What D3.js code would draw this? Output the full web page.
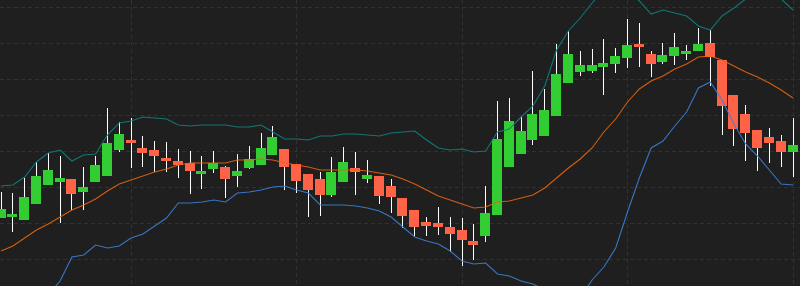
<!DOCTYPE html>
<html>
<head>
<meta charset="utf-8">
<script src="https://cdn.jsdelivr.net/npm/d3@7"></script>
<style>
  html, body { margin: 0; padding: 0; background: #1f1f1f; }
  svg { display: block; }
</style>
</head>
<body>
<div id="container_candles"></div>
<script>
// OHLC per session
const opens = [7.7, 7.8, 7.5, 9.1, 11.0, 11.3, 11.6, 10.3, 11.3, 11.9,
  14.5, 15.5, 14.7, 14.5, 13.7, 13.4, 13.2, 12.1, 12.6, 12.8,
  11.9, 12.7, 13.0, 14.0, 14.6, 13.1, 12.1, 11.6, 10.0, 11.3,
  12.7, 11.6, 11.9, 10.9, 9.7, 8.5, 7.3, 7.2, 6.8, 6.5,
  5.4, 5.9, 8.0, 12.8, 14.1, 15.5, 15.9, 17.9, 21.2, 22.3,
  22.4, 22.8, 23.1, 23.7, 25.1, 24.1, 23.3, 23.9, 24.1, 24.4,
  25.2, 23.5, 20.0, 18.1, 16.5, 15.8, 15.4, 14.3];
const highs = [10.3, 10.2, 11.7, 13.3, 14.2, 13.9, 11.6, 12.8, 13.9, 18.7,
  17.3, 17.7, 15.9, 15.4, 15.3, 14.6, 14.4, 13.9, 14.4, 12.9,
  14.1, 14.9, 16.2, 16.9, 14.6, 13.1, 12.1, 12.3, 13.8, 14.8,
  14.3, 13.5, 11.9, 11.6, 9.7, 8.5, 7.8, 8.8, 7.8, 7.7,
  7.1, 10.9, 19.4, 19.7, 17.9, 22.4, 20.6, 25.1, 26.4, 24.4,
  24.6, 25.6, 24.7, 27.6, 27.2, 24.4, 25.2, 26.2, 25.0, 26.7,
  26.5, 23.5, 20.0, 19.0, 16.5, 16.7, 16.0, 17.7];
const lows = [7.7, 6.3, 7.5, 9.1, 11.0, 7.2, 8.5, 8.5, 11.3, 11.9,
  14.3, 12.7, 12.8, 12.3, 12.3, 11.7, 10.1, 10.6, 12.2, 9.7,
  10.8, 12.6, 13.0, 14.0, 10.5, 10.2, 7.8, 7.9, 9.8, 11.3,
  10.0, 11.2, 9.1, 8.2, 6.7, 5.9, 5.9, 6.0, 4.3, 2.9,
  3.5, 5.3, 8.0, 12.8, 14.1, 15.0, 15.9, 17.9, 21.2, 21.9,
  22.2, 20.0, 22.2, 22.7, 22.8, 21.8, 23.1, 23.0, 23.5, 24.4,
  20.9, 16.0, 14.9, 13.4, 12.4, 13.2, 12.8, 11.8];
const closes = [8.6, 8.1, 9.8, 11.9, 12.5, 11.7, 10.1, 10.8, 13.0, 15.2,
  16.1, 15.2, 14.2, 13.9, 13.4, 13.0, 12.4, 12.4, 13.2, 11.6,
  12.4, 13.6, 14.7, 15.8, 12.8, 11.4, 10.5, 10.0, 12.3, 13.3,
  12.3, 12.0, 9.9, 9.8, 7.9, 6.8, 6.9, 6.8, 6.1, 5.5,
  5.0, 8.2, 15.6, 17.4, 16.4, 18.1, 18.5, 22.1, 24.1, 23.0,
  23.0, 23.2, 23.9, 25.0, 24.8, 23.1, 24.0, 24.8, 24.4, 25.1,
  23.8, 18.9, 16.6, 16.2, 14.7, 15.2, 14.3, 15.0];

// Bollinger bands as drawn (null where the band is outside the view)
const upperBand = [10.9, 11.0, 11.8, 13.3, 14.2, 14.5, 13.4, 14.0, 14.1, 16.0,
  17.2, 17.4, 17.8, 17.7, 17.6, 17.0, 16.9, 17.0, 17.0, 17.0,
  16.8, 16.8, 17.0, 16.3, 15.6, 15.6, 15.5, 15.9, 15.9, 16.1,
  16.1, 16.0, 15.9, 16.2, 16.3, 16.4, 15.5, 14.7, 14.5, 14.6,
  14.3, 14.4, 16.3, 16.6, 17.8, 18.9, 20.9, 24.5, 26.4, 27.7,
  29.2, 30.5, 31.0, 30.5, 29.4, 28.1, 28.5, 28.2, 27.9, 26.9,
  26.5, 27.9, 28.7, 29.6, 30.3, 30.3, 29.6, 28.5];
const middleBand = [4.4, 4.9, 5.7, 6.5, 7.1, 7.8, 8.5, 9.0, 9.6, 10.4,
  11.1, 11.5, 11.9, 12.3, 12.6, 13.0, 13.2, 13.2, 13.2, 13.2,
  13.5, 13.5, 13.6, 13.5, 13.2, 13.0, 12.8, 12.5, 12.5, 12.5,
  12.5, 12.4, 12.2, 12.0, 11.6, 11.1, 10.5, 9.9, 9.5, 9.1,
  8.7, 8.8, 9.3, 9.4, 9.7, 10.0, 10.7, 11.7, 12.7, 13.6,
  14.7, 16.3, 17.6, 19.3, 20.6, 21.4, 21.9, 22.6, 23.1, 23.8,
  23.9, 23.5, 22.9, 22.3, 21.8, 21.2, 20.5, 19.7];
const lowerBand = [null, null, null, null, 0.0, 1.4, 3.8, 4.0, 5.0, 4.7,
  4.9, 5.7, 6.1, 6.9, 7.7, 9.2, 9.2, 9.3, 9.5, 9.3,
  10.2, 10.3, 10.5, 10.8, 10.9, 10.5, 10.2, 9.0, 9.0, 9.0,
  8.9, 8.7, 8.4, 7.8, 6.8, 5.8, 5.4, 5.1, 4.4, 3.4,
  3.1, 3.2, 2.1, 1.9, 1.4, 1.1, 0.5, -0.2, -0.6, -0.3,
  1.5, 2.8, 4.7, 8.3, 11.7, 14.7, 15.4, 16.9, 18.3, 20.7,
  21.3, 19.5, 17.1, 15.1, 13.9, 12.5, 11.1, 11.0];

const days = opens.map((_, i) => i);
const gridDays = [11, 25, 39, 53, 67];
const gridPrices = [3.6, 7.2, 10.8, 14.4, 18.0, 21.6, 25.2, 28.8];

const width = 800;
const height = 286;

const svg = d3.select('#container_candles')
  .append('svg')
  .attr('id', 'svg_candles')
  .attr('width', width)
  .attr('height', height)
  .style('background-color', '#1f1f1f');

const x = d3.scaleLinear().domain([0, 67]).range([1, 793]);
const y = d3.scaleLinear().domain([0.9, 29.5]).range([height, 0]);

// grid
const grid = svg.append('g').attr('class', 'grid')
  .attr('stroke', '#313131')
  .attr('stroke-width', 1)
  .attr('stroke-dasharray', '4,3');

grid.selectAll('line.h')
  .data(gridPrices)
  .join('line')
  .attr('class', 'h')
  .attr('x1', 0).attr('x2', width)
  .attr('y1', d => Math.round(y(d)) + 0.5)
  .attr('y2', d => Math.round(y(d)) + 0.5);

grid.selectAll('line.v')
  .data(gridDays)
  .join('line')
  .attr('class', 'v')
  .attr('y1', 0).attr('y2', height)
  .attr('x1', d => Math.floor(x(d)) + 0.5)
  .attr('x2', d => Math.floor(x(d)) + 0.5);

// candles
const candles = svg.append('g').attr('class', 'candles')
  .selectAll('g')
  .data(days)
  .join('g');

candles.append('rect')
  .attr('class', 'wick')
  .attr('fill', '#ffffff')
  .attr('x', i => Math.floor(x(i)))
  .attr('width', 1)
  .attr('y', i => y(highs[i]))
  .attr('height', i => Math.max(1, y(lows[i]) - y(highs[i])));

candles.append('rect')
  .attr('class', 'body')
  .attr('fill', i => closes[i] >= opens[i] ? '#32cd32' : '#ff6347')
  .attr('x', i => Math.floor(x(i)) - 5)
  .attr('width', 10)
  .attr('y', i => y(Math.max(opens[i], closes[i])))
  .attr('height', i => Math.max(2, Math.abs(y(opens[i]) - y(closes[i]))));

// bands
const bandLine = d3.line()
  .defined(d => d.v != null)
  .x(d => x(d.i))
  .y(d => y(d.v));

const bands = [
  {name: 'upper', values: upperBand, color: '#118080'},
  {name: 'middle', values: middleBand, color: '#e8640e'},
  {name: 'lower', values: lowerBand, color: '#3b7fd6'}
];

svg.append('g').attr('class', 'bands')
  .selectAll('path')
  .data(bands)
  .join('path')
  .attr('fill', 'none')
  .attr('stroke', d => d.color)
  .attr('stroke-width', 1.1)
  .attr('stroke-opacity', 0.9)
  .attr('d', d => bandLine(d.values.map((v, i) => ({i, v}))));
</script>
</body>
</html>
